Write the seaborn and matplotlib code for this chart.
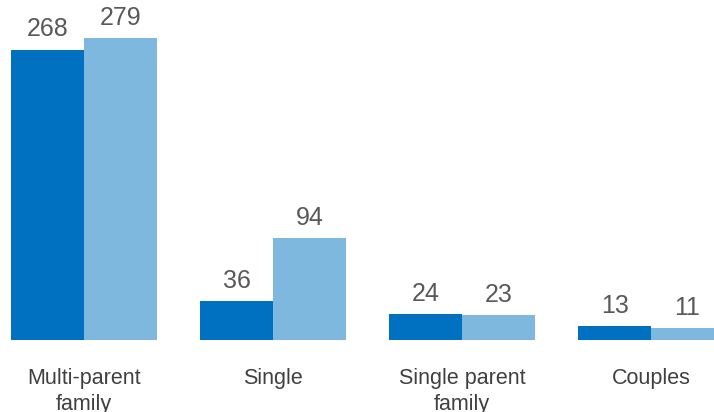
import pandas as pd
import matplotlib.pyplot as plt
import seaborn as sns

# Datos
categories = ["Multi-parent\nfamily", "Single", "Single parent\nfamily", "Couples"]
series_names = ["Series 1", "Series 2"]
values_1 = [268, 36, 24, 13]
values_2 = [279, 94, 23, 11]

colors = ["#0070C0", "#7FB8DF"]


def main():
    df = pd.DataFrame({
        "category": categories * 2,
        "series": [series_names[0]] * len(categories) + [series_names[1]] * len(categories),
        "value": values_1 + values_2,
    })

    sns.set_style("white")
    plt.rcParams["font.family"] = ["Liberation Sans", "DejaVu Sans"]

    fig = plt.figure(figsize=(7.14, 4.12), dpi=100)
    ax = fig.add_axes([0, 0.1748, 1, 0.8252])

    sns.barplot(data=df, x="category", y="value", hue="series",
                palette=colors, width=0.772, saturation=1, linewidth=0,
                ax=ax, legend=False)

    for cont in ax.containers:
        ax.bar_label(cont, padding=6, fontsize=18, color="#595959")

    ax.set_xlim(-0.444, 3.333)
    ax.set_ylim(0, 314)
    ax.set_xlabel("")
    ax.set_ylabel("")
    ax.set_yticks([])
    ax.tick_params(axis="x", length=0, pad=20, labelsize=15.5, labelcolor="#404040")
    for lbl in ax.get_xticklabels():
        lbl.set_linespacing(1.33)
    sns.despine(ax=ax, left=True, bottom=True)

    fig.savefig("out.png", dpi=100)


if __name__ == "__main__":
    main()
